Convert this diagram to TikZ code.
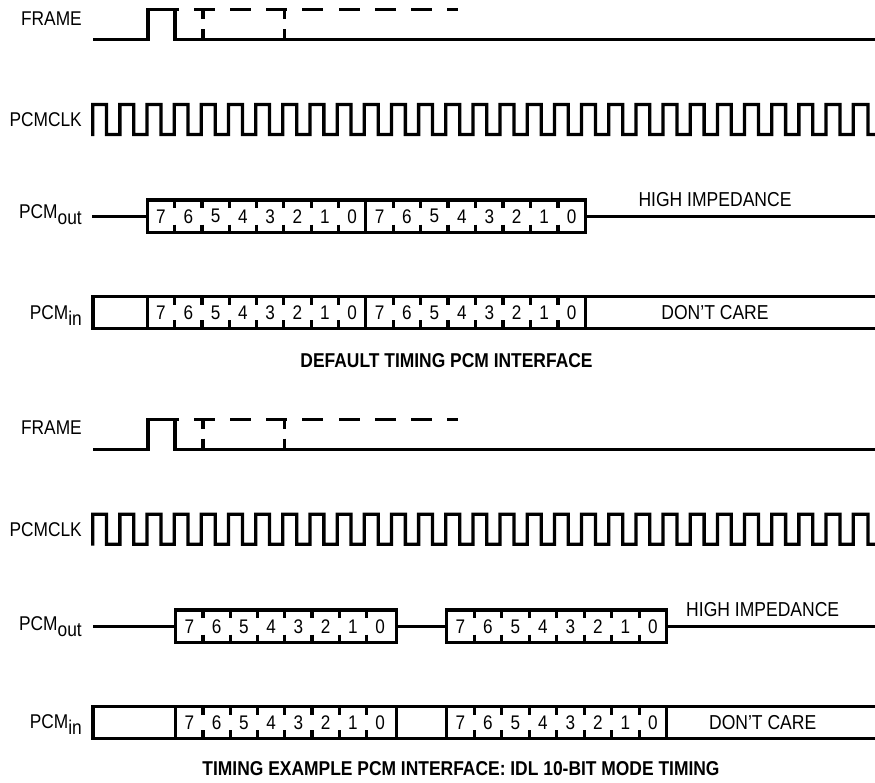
\documentclass[tikz,border=0pt]{standalone}
\usepackage{fontspec}
\setmainfont[FakeStretch=0.87]{Liberation Sans}
\usetikzlibrary{positioning}

\begin{document}
\begin{tikzpicture}[
    x=0.03cm, y=-0.03cm,
    wave/.style      = {black, line width=2.8pt},
    dashpiece/.style = {black, line width=2.8pt},
    signal/.style    = {font=\fontsize{17}{18}\selectfont, anchor=base east, inner sep=0pt},
    note/.style      = {font=\fontsize{17.2}{18}\selectfont, anchor=base, inner sep=0pt},
    caption/.style   = {font=\fontsize{17.1}{18}\selectfont\bfseries, anchor=base, inner sep=0pt},
    bit/.style       = {font=\fontsize{16.8}{18}\selectfont, inner sep=0pt}
  ]
\useasboundingbox (0,0) rectangle (875,782);

% =========================================================
% FRAME and PCMCLK, same in both panels
% =========================================================
\foreach \dy/\tag in {0/a, 409.7/b} {
\begin{scope}[shift={(0,\dy)}]
  % Frame pulse
  \draw[wave] (93,39.5) -- (148,39.5) -- (148,9.5) -- (179,9.5);
  \draw[wave] (175,9.5) -- (175,39.5) -- (875,39.5);

  % Later frame positions (dashed high level)
  \foreach \x in {194,230,266,302,339,375,411} {
    \draw[dashpiece] (\x,9.5) -- ({\x+21},9.5);
  }
  \draw[dashpiece] (447,9.5) -- (458,9.5);
  \foreach \x in {203,284.5} {
    \draw[dashpiece] (\x,9.5) -- (\x,19);
    \draw[dashpiece] (\x,29) -- (\x,39.5);
  }

  % Clock
  \draw[wave] (92.7,136)
    foreach \k in {0,...,27} {
      -- ({92.7+27.16*\k},104.5) -- ({106.6+27.16*\k},104.5)
      -- ({106.6+27.16*\k},134.5) -- ({119.86+27.16*\k},134.5)
    }
    -- (853.2,104.5) -- (868,104.5) -- (868,134.5) -- (875,134.5);

  \node[signal] (frame\tag) at (82,25) {FRAME};
  \node[signal] (clk\tag) at (82,126.7) {PCMCLK};
\end{scope}
}

% =========================================================
% PANEL (top) -- default timing
% =========================================================
\draw[wave] (92,216.5) -- (147.3,216.5);
\draw[wave] (147.3,200) rectangle (585.3,232.5);
\draw[wave] (365.8,200) -- (365.8,232.5);
\draw[wave] (585.3,216.5) -- (875,216.5);

\draw[wave] (875,296.7) -- (93,296.7) -- (93,328.3) -- (875,328.3);
\foreach \x in {147.3,365.8,585.3} {
  \draw[wave] (\x,296.7) -- (\x,328.3);
}

\node[signal] (outa) at (82,218.3) {PCM\raisebox{-5.7pt}{out}};
\node[signal] (ina) at (82,319) {PCM\raisebox{-5.7pt}{in}};
\node[note] (hiza) at (715,206) {HIGH IMPEDANCE};
\node[note] (carea) at (715,319) {DON'T CARE};
\node[caption] (capa) at (446.5,367) {DEFAULT TIMING PCM INTERFACE};

% =========================================================
% PANEL (bottom) -- IDL 10-bit mode
% =========================================================
\draw[wave] (93,626.3) -- (175.7,626.3);
\draw[wave] (175.7,610) rectangle (396.7,642.7);
\draw[wave] (396.7,626.3) -- (446.7,626.3);
\draw[wave] (446.7,610) rectangle (666.7,642.7);
\draw[wave] (666.7,626.3) -- (875,626.3);

\draw[wave] (875,706.7) -- (93,706.7) -- (93,738.3) -- (875,738.3);
\foreach \x in {175.7,396.7,446.7,666.7} {
  \draw[wave] (\x,706.7) -- (\x,738.3);
}

\node[signal] (outb) at (82,630) {PCM\raisebox{-5.7pt}{out}};
\node[signal] (inb) at (82,728.3) {PCM\raisebox{-5.7pt}{in}};
\node[note] (hizb) at (762.7,616) {HIGH IMPEDANCE};
\node[note] (careb) at (762.7,729) {DON'T CARE};
\node[caption] (capb) at (461,775.5) {TIMING EXAMPLE PCM INTERFACE: IDL 10-BIT MODE TIMING};

% =========================================================
% Bit cells: start x / top / bottom / cell width / row name
% =========================================================
\foreach \xs/\ya/\yb/\cw/\row in {
    147.3/200/232.5/27.31/oa, 365.8/200/232.5/27.44/ob,
    147.3/296.7/328.3/27.31/ia, 365.8/296.7/328.3/27.44/ib,
    175.7/610/642.7/27.25/oc, 446.7/610/642.7/27.5/od,
    175.7/706.7/738.3/27.25/ic, 446.7/706.7/738.3/27.5/id} {
  \foreach \d [count=\i from 1] in {7,6,5,4,3,2,1,0} {
    \node[bit] (\row\d) at ({\xs+(\i-0.5)*\cw},{(\ya+\yb)/2}) {\d};
  }
  \foreach \i in {1,...,7} {
    \draw[wave] ({\xs+\i*\cw},\ya) -- ({\xs+\i*\cw},{\ya+8});
    \draw[wave] ({\xs+\i*\cw},{\yb-8}) -- ({\xs+\i*\cw},\yb);
  }
}

\end{tikzpicture}
\end{document}
